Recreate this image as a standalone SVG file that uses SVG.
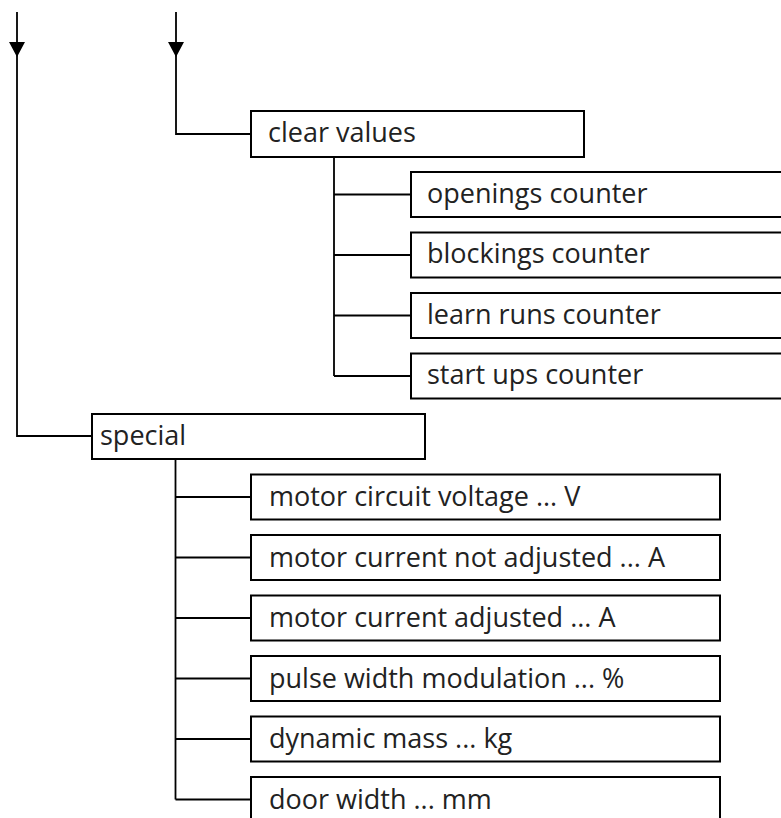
<svg xmlns="http://www.w3.org/2000/svg" width="781" height="818" viewBox="0 0 781 818">
<style>
.box{fill:#fff;stroke:#000;stroke-width:2}
.ln{fill:none;stroke:#000;stroke-width:1.8}
.ah{fill:#000;stroke:none}
text{font-family:"Open Sans","Noto Sans","Liberation Sans",sans-serif;font-size:27px;fill:#222}
</style>
<rect width="781" height="818" fill="#fff"/>
<g id="connectors">
<path class="ln" d="M17,12 V436 H92"/>
<polygon class="ah" points="9,42 25,42 17,57"/>
<path class="ln" d="M176,12 V134 H251"/>
<polygon class="ah" points="168,42 184,42 176,57"/>
<path class="ln" d="M334,157 V376 M334,194.5 H411 M334,255 H411 M334,315.5 H411 M334,376 H411"/>
<path class="ln" d="M175.5,459 V799.5 M175.5,497 H251 M175.5,557.5 H251 M175.5,618 H251 M175.5,678.5 H251 M175.5,739 H251 M175.5,799.5 H251"/>
</g>
<g id="clear-values"><rect class="box" x="251" y="111" width="333" height="46"/><text x="268" y="142">clear values</text></g>
<g id="openings-counter"><rect class="box" x="411" y="172" width="380" height="45"/><text x="427" y="202.5">openings counter</text></g>
<g id="blockings-counter"><rect class="box" x="411" y="232.5" width="380" height="45"/><text x="427" y="263">blockings counter</text></g>
<g id="learn-runs-counter"><rect class="box" x="411" y="293" width="380" height="45"/><text x="427" y="323.5">learn runs counter</text></g>
<g id="start-ups-counter"><rect class="box" x="411" y="353.5" width="380" height="45"/><text x="427" y="384">start ups counter</text></g>
<g id="special"><rect class="box" x="92" y="414" width="333" height="45"/><text x="100" y="445">special</text></g>
<g id="motor-circuit-voltage"><rect class="box" x="251" y="474.5" width="469" height="45"/><text x="269" y="506">motor circuit voltage ... V</text></g>
<g id="motor-current-not-adjusted"><rect class="box" x="251" y="535" width="469" height="45"/><text x="269" y="566.5">motor current not adjusted ... A</text></g>
<g id="motor-current-adjusted"><rect class="box" x="251" y="595.5" width="469" height="45"/><text x="269" y="627">motor current adjusted ... A</text></g>
<g id="pulse-width-modulation"><rect class="box" x="251" y="656" width="469" height="45"/><text x="269" y="687.5">pulse width modulation ... %</text></g>
<g id="dynamic-mass"><rect class="box" x="251" y="716.5" width="469" height="45"/><text x="269" y="748">dynamic mass ... kg</text></g>
<g id="door-width"><rect class="box" x="251" y="777" width="469" height="45"/><text x="269" y="808.5">door width ... mm</text></g>
</svg>
